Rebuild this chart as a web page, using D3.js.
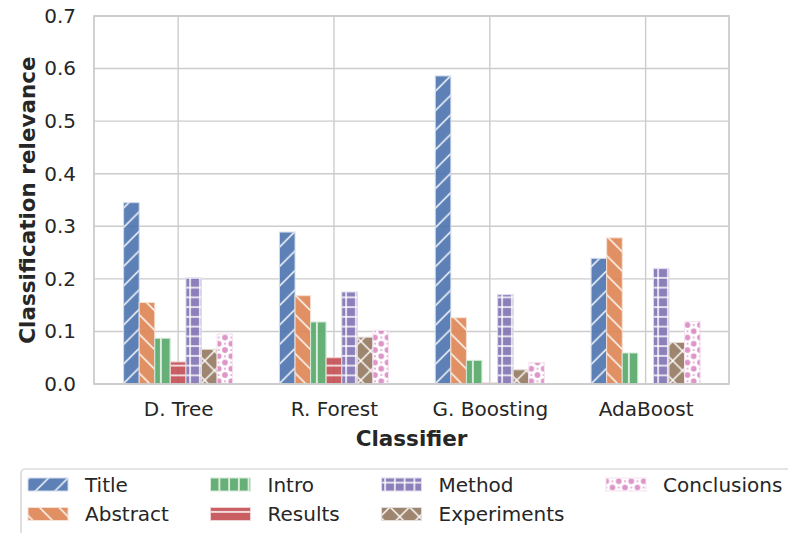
<!DOCTYPE html>
<html>
<head>
<meta charset="utf-8">
<script src="https://cdn.jsdelivr.net/npm/d3@7"></script>
<style>
  html, body { margin: 0; padding: 0; background: #ffffff; }
  svg { display: block; font-family: "DejaVu Sans", sans-serif; }
</style>
</head>
<body>
<svg id="chart" width="788" height="533"></svg>
<script>
// ---- data ----
const classifiers = ["D. Tree", "R. Forest", "G. Boosting", "AdaBoost"];
const sections = ["Title", "Abstract", "Intro", "Results", "Method", "Experiments", "Conclusions"];
const title       = [0.345, 0.289, 0.586, 0.239];
const abstract    = [0.155, 0.168, 0.126, 0.278];
const intro       = [0.087, 0.118, 0.045, 0.059];
const results     = [0.042, 0.050, 0.002, 0.000];
const method      = [0.202, 0.175, 0.170, 0.220];
const experiments = [0.066, 0.089, 0.027, 0.079];
const conclusions = [0.095, 0.102, 0.041, 0.119];
const yTicks = [0.0, 0.1, 0.2, 0.3, 0.4, 0.5, 0.6, 0.7];
const colors = ["#4C72B0", "#DD8452", "#55A868", "#C44E52", "#8172B3", "#937860", "#DA8BC3"];
const hatches = ["slash", "backslash", "vline", "hline", "plus", "cross", "circle"];

const seriesValues = [title, abstract, intro, results, method, experiments, conclusions];

// ---- layout ----
const svg = d3.select("#chart");
const plot = { left: 94, right: 729, top: 16, bottom: 384 };
const textColor = "#262626";
const gridColor = "#cccccc";

const x = d3.scaleLinear().domain([-0.54, 3.535]).range([plot.left, plot.right]);
const y = d3.scaleLinear().domain([0, 0.7]).range([plot.bottom, plot.top]);
const barW = 0.1;

// ---- hatch patterns ----
const defs = svg.append("defs");
const hs = 19.5;
const hs2 = hs / 2;
const hw = 1.5;
function makePattern(id, color, kind) {
  let size = kind === "slash" || kind === "backslash" || kind === "cross" ? hs : hs2;
  if (kind === "circle") size = 12.5;
  const p = defs.append("pattern").attr("id", id)
    .attr("patternUnits", "userSpaceOnUse")
    .attr("width", size).attr("height", size);
  p.append("rect").attr("width", size).attr("height", size).attr("fill", color).attr("fill-opacity", 0.9);
  const line = (x1, y1, x2, y2) => p.append("line")
    .attr("x1", x1).attr("y1", y1).attr("x2", x2).attr("y2", y2)
    .attr("stroke", "#ffffff").attr("stroke-width", hw);
  if (kind === "slash") {
    line(0, size, size, 0);
    line(-1, 1, 1, -1); line(size - 1, size + 1, size + 1, size - 1);
  } else if (kind === "backslash") {
    line(0, 0, size, size); line(-1, size - 1, 1, size + 1); line(size - 1, -1, size + 1, 1);
  } else if (kind === "vline") {
    line(size / 2, 0, size / 2, size);
  } else if (kind === "hline") {
    line(0, size / 2, size, size / 2);
  } else if (kind === "plus") {
    line(size / 2, 0, size / 2, size); line(0, size / 2, size, size / 2);
  } else if (kind === "cross") {
    line(0, 0, size, size); line(0, size, size, 0);
  } else if (kind === "circle") {
    const r = 4.2;
    const circ = (cx, cy) => p.append("circle").attr("cx", cx).attr("cy", cy).attr("r", r)
      .attr("fill", "none").attr("stroke", "#ffffff").attr("stroke-width", 2.6);
    circ(size / 2, size / 2);
    circ(0, 0); circ(size, 0); circ(0, size); circ(size, size);
  }
}
sections.forEach((s, i) => makePattern("hatch" + i, colors[i], hatches[i]));

// ---- grid ----
const g = svg.append("g");
g.selectAll("line.hgrid").data(yTicks).join("line")
  .attr("x1", plot.left).attr("x2", plot.right)
  .attr("y1", d => y(d)).attr("y2", d => y(d))
  .attr("stroke", gridColor).attr("stroke-width", 1.4);
g.selectAll("line.vgrid").data(classifiers).join("line")
  .attr("x1", (d, i) => x(i)).attr("x2", (d, i) => x(i))
  .attr("y1", plot.top).attr("y2", plot.bottom)
  .attr("stroke", gridColor).attr("stroke-width", 1.4);

// ---- bars ----
const barData = [];
seriesValues.forEach((vals, si) => {
  vals.forEach((v, ci) => barData.push({ si, ci, v }));
});
g.selectAll("rect.bar").data(barData).join("rect")
  .attr("class", "bar")
  .attr("x", d => x(d.ci + (d.si - 3) * barW - barW / 2))
  .attr("width", d => x(barW) - x(0))
  .attr("y", d => y(d.v))
  .attr("height", d => y(0) - y(d.v))
  .attr("fill", d => `url(#hatch${d.si})`)
  .attr("stroke", d => d3.interpolateRgb(colors[d.si], "#ffffff")(0.75))
  .attr("stroke-width", d => d.v > 0 ? 1 : 0);

// ---- frame ----
svg.append("rect")
  .attr("x", plot.left).attr("y", plot.top)
  .attr("width", plot.right - plot.left).attr("height", plot.bottom - plot.top)
  .attr("fill", "none").attr("stroke", gridColor).attr("stroke-width", 1.8);

// ---- axes ----
const yAxis = d3.axisLeft(y).tickValues(yTicks).tickFormat(d3.format(".1f")).tickSize(0).tickPadding(18);
const ya = svg.append("g").attr("transform", `translate(${plot.left},0)`).call(yAxis);
ya.select(".domain").remove();
ya.selectAll("text").attr("font-size", 20).attr("fill", textColor).attr("font-family", "DejaVu Sans");

const xAxis = d3.axisBottom(x).tickValues([0, 1, 2, 3]).tickFormat(i => classifiers[i]).tickSize(0).tickPadding(18);
const xa = svg.append("g").attr("transform", `translate(0,${plot.bottom})`).call(xAxis);
xa.select(".domain").remove();
xa.selectAll("text").attr("font-size", 20).attr("fill", textColor).attr("font-family", "DejaVu Sans");

svg.append("text")
  .attr("x", (plot.left + plot.right) / 2).attr("y", 446)
  .attr("text-anchor", "middle").attr("font-weight", "bold")
  .attr("font-size", 21.5).attr("fill", textColor)
  .text("Classifier");

svg.append("text")
  .attr("transform", `translate(35,${(plot.top + plot.bottom) / 2}) rotate(-90)`)
  .attr("text-anchor", "middle").attr("font-weight", "bold")
  .attr("font-size", 21.5).attr("fill", textColor)
  .text("Classification relevance");

// ---- legend ----
const lg = svg.append("g");
lg.append("rect")
  .attr("x", 21).attr("y", 469).attr("width", 790).attr("height", 90)
  .attr("rx", 4).attr("fill", "#ffffff").attr("fill-opacity", 0.8)
  .attr("stroke", "#cccccc").attr("stroke-width", 1.2);
const colX = [28, 210.5, 381.5, 606];
const rowY = [478, 507.5];
sections.forEach((s, i) => {
  const c = Math.floor(i / 2), r = i % 2;
  lg.append("rect")
    .attr("x", colX[c]).attr("y", rowY[r]).attr("width", 40).attr("height", 13)
    .attr("fill", `url(#hatch${i})`)
    .attr("stroke", d3.interpolateRgb(colors[i], "#ffffff")(0.75)).attr("stroke-width", 1);
  lg.append("text")
    .attr("x", colX[c] + 57).attr("y", rowY[r] + 6.5).attr("dy", "0.35em")
    .attr("font-size", 20).attr("fill", textColor)
    .text(s);
});
</script>
</body>
</html>
